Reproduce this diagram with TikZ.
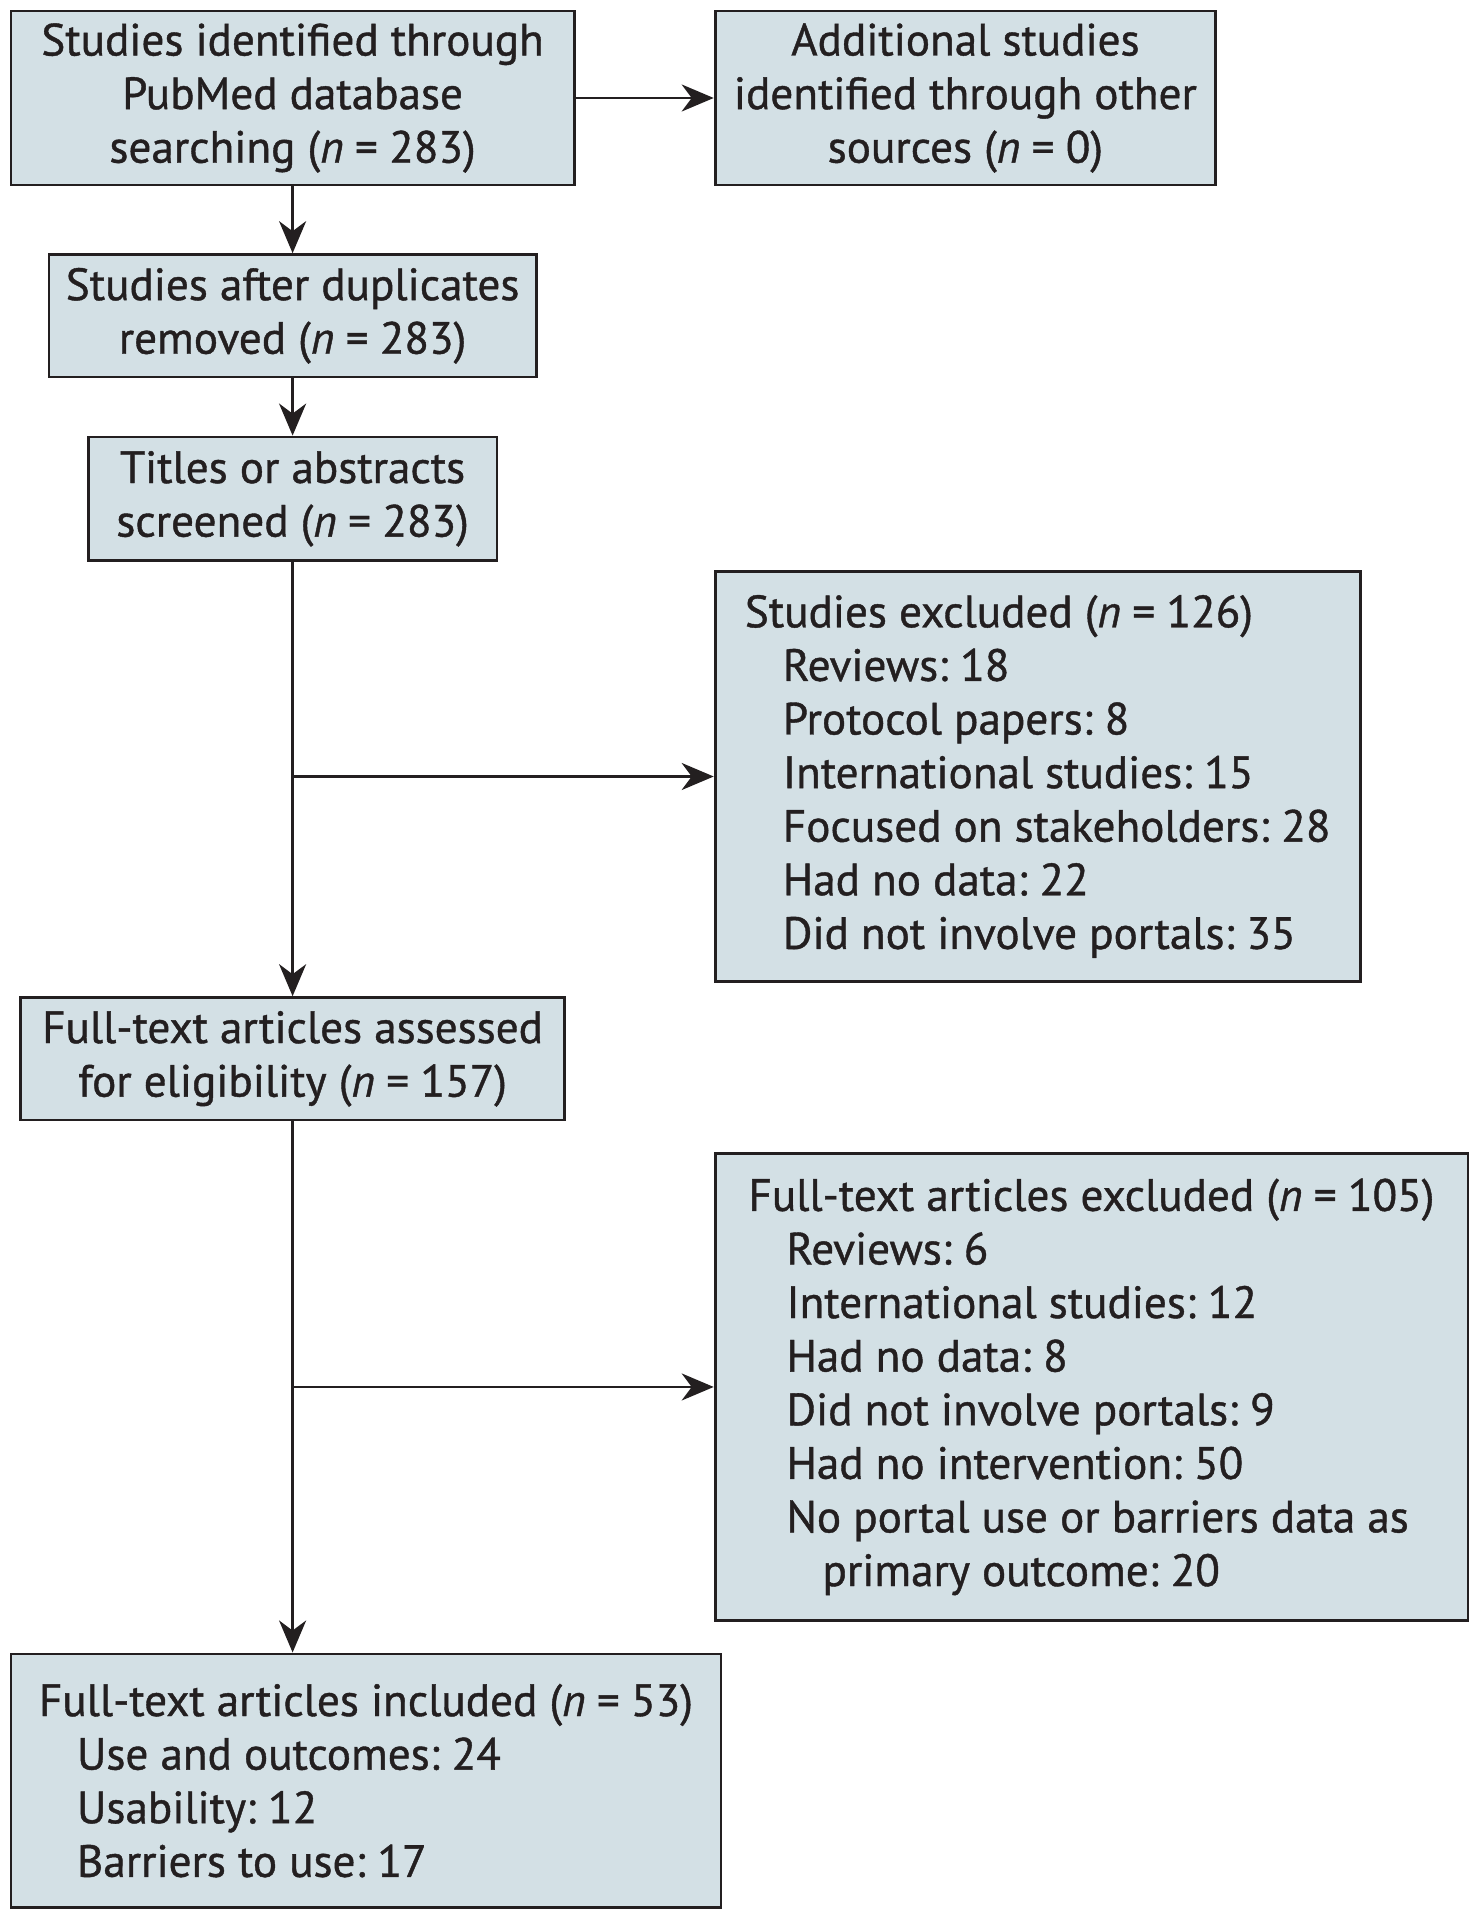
\documentclass[tikz,border=0pt]{standalone}
\usepackage{fontspec}
\setmainfont{PT Sans}[FakeBold=0.9]
\usepackage{tikz}
\usetikzlibrary{arrows.meta}
\usetikzlibrary{positioning,calc}
\definecolor{boxfill}{RGB}{211,224,229}
\definecolor{inkgray}{RGB}{35,31,32}
\newcommand\boxfont{\fontsize{22.6}{26.8}\selectfont\frenchspacing}
\newcommand\ncount[1]{\textit{n}\hspace{0.25em}=\hspace{0.25em}#1}
\tikzset{
    stage/.style={
           rectangle,
           draw=inkgray, line width=1.4pt,
           fill=boxfill,
           text=inkgray,
           inner sep=0pt,
           align=center,
           font=\boxfont,
           },
    stagelist/.style={
           stage,
           align=left,
           },
}

\begin{document}
\begin{tikzpicture}
[
->,>={Stealth[length=16pt,width=13.5pt,inset=5pt]},
line width=1.4pt, draw=inkgray
]
 \useasboundingbox (0,0) rectangle (740pt,-960pt);

 % IDENTIFICATION
 \node[stage,
 minimum width=281.6pt,
 minimum height=87pt] (PUBMED) at (146.3pt,-49pt)
 {%
Studies identified through\\PubMed database\\searching (\ncount{283})
 };

 \node[stage,
 right of=PUBMED,
 node distance=336.4pt,
 minimum width=250.3pt,
 minimum height=87pt] (OTHER)
 {%
Additional studies\\identified through other\\sources (\ncount{0})
 };

 % SCREENING
 \node[stage,
 below of=PUBMED,
 node distance=108.9pt,
 minimum width=243.6pt,
 minimum height=61.2pt] (DEDUP)
 {%
Studies after duplicates\\removed (\ncount{283})
 };

 \node[stage,
 below of=DEDUP,
 node distance=91.5pt,
 minimum width=204.4pt,
 minimum height=61.8pt] (TITLES)
 {%
Titles or abstracts\\screened (\ncount{283})
 };

 % ELIGIBILITY
 \node[stage,
 below of=TITLES,
 node distance=280pt,
 minimum width=271.8pt,
 minimum height=61.2pt] (FULLTEXT)
 {%
Full-text articles assessed\\for eligibility (\ncount{157})
 };

 % INCLUDED
 \node[stagelist,
 below of=FULLTEXT,
 node distance=360.9pt,
 xshift=36.7pt,
 minimum width=355pt,
 minimum height=126.7pt] (INCLUDED)
 {%
Full-text articles included (\ncount{53})\\
\hspace*{19pt}Use and outcomes: 24\\
\hspace*{19pt}Usability: 12\\
\hspace*{19pt}Barriers to use: 17
 };

 % split points on the main line
 \coordinate (SPLIT1) at ($(TITLES.south)!0.494!(FULLTEXT.north)$);
 \coordinate (SPLIT2) at ($(FULLTEXT.south)!0.5!(FULLTEXT.south |- INCLUDED.north)$);

 % EXCLUDED
 \node[stagelist,
 anchor=west,
 minimum width=322.6pt,
 minimum height=205pt] (EXCL1) at (OTHER.west |- SPLIT1)
 {%
Studies excluded (\ncount{126})\\
\hspace*{19pt}Reviews: 18\\
\hspace*{19pt}Protocol papers: 8\\
\hspace*{19pt}International studies: 15\\
\hspace*{19pt}Focused on stakeholders: 28\\
\hspace*{19pt}Had no data: 22\\
\hspace*{19pt}Did not involve portals: 35
 };

 \node[stagelist,
 anchor=west,
 minimum width=376.4pt,
 minimum height=233.2pt] (EXCL2) at (OTHER.west |- SPLIT2)
 {%
Full-text articles excluded (\ncount{105})\\
\hspace*{19pt}Reviews: 6\\
\hspace*{19pt}International studies: 12\\
\hspace*{19pt}Had no data: 8\\
\hspace*{19pt}Did not involve portals: 9\\
\hspace*{19pt}Had no intervention: 50\\
\hspace*{19pt}No portal use or barriers data as\\
\hspace*{37pt}primary outcome: 20
 };

 % draw the paths
 \draw (PUBMED) -- (OTHER);
 \draw (PUBMED) -- (DEDUP);
 \draw (DEDUP) -- (TITLES);
 \draw (TITLES) -- (FULLTEXT);
 \draw (SPLIT1) -- (EXCL1);
 \draw (FULLTEXT.south) -- (FULLTEXT.south |- INCLUDED.north);
 \draw (SPLIT2) -- (EXCL2);

\end{tikzpicture}
\end{document}
